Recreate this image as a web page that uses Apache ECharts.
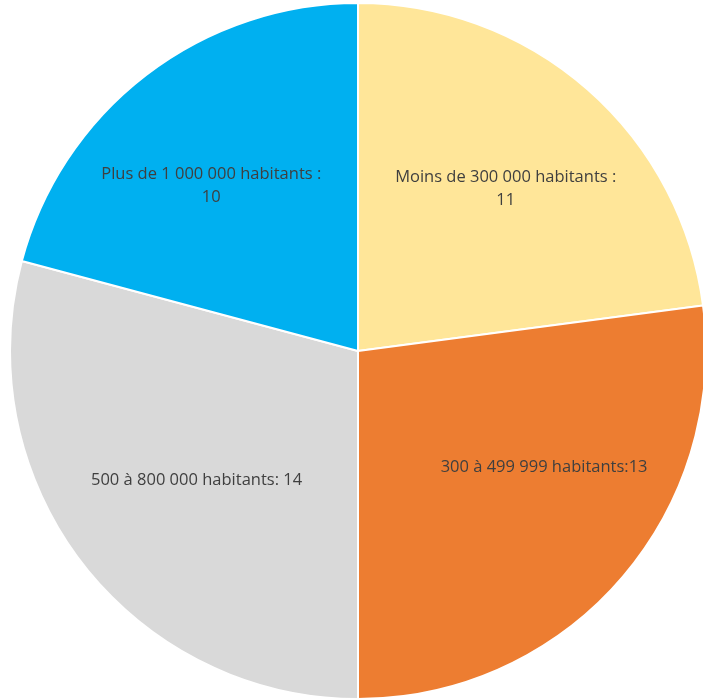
<!DOCTYPE html>
<html>
<head>
<meta charset="utf-8">
<script src="https://cdn.jsdelivr.net/npm/echarts@6/dist/echarts.min.js"></script>
<style>
  html, body { margin: 0; padding: 0; background: #ffffff; }
  #chart { width: 703px; height: 699px; }
</style>
</head>
<body>
<div id="chart"></div>
<script>
// Villes par tranche de population
const categories = [
  'Moins de 300 000 habitants :\n',
  '300 à 499 999 habitants:',
  '500 à 800 000 habitants: ',
  'Plus de 1 000 000 habitants :\n'
];
const values = [11, 13, 14, 10];
const colors = ['#FFE699', '#ED7D31', '#D9D9D9', '#00B0F0'];

// label nudges away from the default mid-radius position
const labelShift = [
  { dx: 31, dy: -29 },
  { dx: 53, dy: 0 },
  { dx: -21, dy: 22 },
  { dx: -39, dy: -25 }
];

const chart = echarts.init(document.getElementById('chart'));
chart.setOption({
  animation: false,
  backgroundColor: '#ffffff',
  series: [{
    type: 'pie',
    center: [358, 351],
    radius: [0, 348],
    startAngle: 90,
    clockwise: true,
    data: categories.map((name, i) => ({
      name: name,
      value: values[i],
      itemStyle: { color: colors[i] }
    })),
    itemStyle: { borderColor: '#ffffff', borderWidth: 2 },
    label: {
      show: true,
      position: 'inside',
      formatter: p => p.name + p.value,
      color: '#3f3f3f',
      fontFamily: 'Open Sans',
      fontSize: 16.5,
      lineHeight: 23,
      align: 'center'
    },
    labelLine: { show: false },
    labelLayout: p => labelShift[p.dataIndex],
    emphasis: { disabled: true }
  }]
});
</script>
</body>
</html>
